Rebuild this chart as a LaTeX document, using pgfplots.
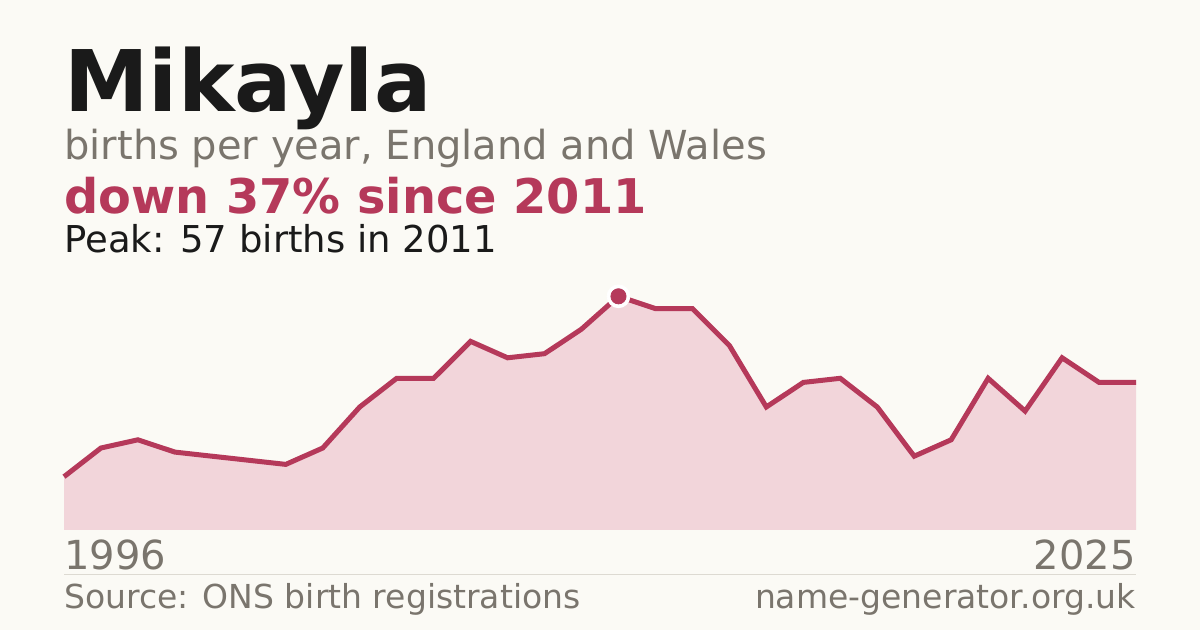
\documentclass[border=0pt]{standalone}
\usepackage{pgfplots}
\pgfplotsset{compat=1.18}
\usepackage{pgfplotstable}
\usepackage{fontspec}
\setmainfont{DejaVu Sans}
\definecolor{bg}{HTML}{FBFAF5}
\definecolor{ink}{HTML}{1A1A1A}
\definecolor{muted}{HTML}{7A756D}
\definecolor{accent}{HTML}{B5395A}
\definecolor{areafill}{HTML}{F2D5DA}
\definecolor{rule}{HTML}{DDDAD2}
\pgfplotstableread{
year births
1996 13
1997 20
1998 22
1999 19
2000 18
2001 17
2002 16
2003 20
2004 30
2005 37
2006 37
2007 46
2008 42
2009 43
2010 49
2011 57
2012 54
2013 54
2014 45
2015 30
2016 36
2017 37
2018 30
2019 18
2020 22
2021 37
2022 29
2023 42
2024 36
2025 36
}\datatable
\begin{document}
\begin{tikzpicture}
\fill[bg] (0pt,0pt) rectangle (600pt,315pt);
\node[anchor=base west,inner sep=0,text=ink] at (32pt,259pt) {\fontsize{42.5}{50}\selectfont\bfseries Mikayla};
\node[anchor=base west,inner sep=0,text=muted] at (32pt,235pt) {\fontsize{20}{24}\selectfont births per year, England and Wales};
\node[anchor=base west,inner sep=0,text=accent] at (32pt,208pt) {\fontsize{23.9}{28}\selectfont\bfseries down 37\% since 2011};
\node[anchor=base west,inner sep=0,text=ink] at (32pt,188.5pt) {\fontsize{18.5}{22}\selectfont Peak: 57 births in 2011};
\begin{axis}[
  at={(32pt,50pt)}, anchor=south west,
  scale only axis, width=536pt, height=116.85pt,
  xmin=1996, xmax=2025, ymin=0, ymax=57,
  hide axis, clip=false,
]
\addplot[fill=areafill, draw=none] table[x=year,y=births]{\datatable} \closedcycle;
\addplot[color=accent, line width=2.5pt] table[x=year,y=births]{\datatable};
\addplot[only marks, mark=*, color=white, mark size=5.7pt] coordinates {(2011,57)};
\addplot[only marks, mark=*, color=accent, mark size=3.8pt] coordinates {(2011,57)};
\end{axis}
\node[anchor=base west,inner sep=0,text=muted] at (32pt,30pt) {\fontsize{20}{24}\selectfont 1996};
\node[anchor=base east,inner sep=0,text=muted] at (568pt,30pt) {\fontsize{20}{24}\selectfont 2025};
\draw[rule, line width=0.5pt] (32pt,27.75pt) -- (568pt,27.75pt);
\node[anchor=base west,inner sep=0,text=muted] at (32pt,10.5pt) {\fontsize{16.5}{20}\selectfont Source: ONS birth registrations};
\node[anchor=base east,inner sep=0,text=muted] at (568pt,10.5pt) {\fontsize{16.5}{20}\selectfont name-generator.org.uk};
\end{tikzpicture}
\end{document}
